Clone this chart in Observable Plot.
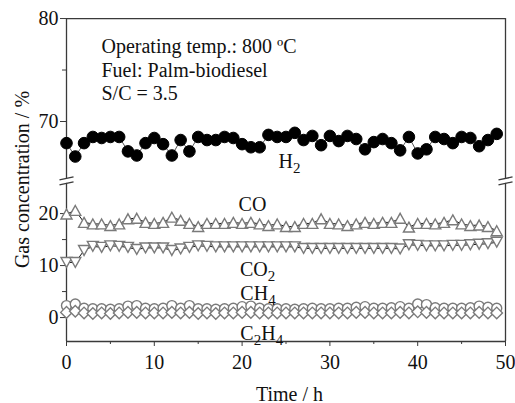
<!DOCTYPE html>
<html><head><meta charset="utf-8">
<script src="https://cdn.jsdelivr.net/npm/d3@7"></script>
<script src="https://cdn.jsdelivr.net/npm/@observablehq/plot@0.6"></script>
<style>
body{margin:0;background:#fff}
#chart svg{font-family:"Liberation Serif","Times New Roman",serif}
</style>
</head><body><div id="chart"></div>
<script>
// ---- data ----
const hours = [0,1,2,3,4,5,6,7,8,9,10,11,12,13,14,15,16,17,18,19,20,21,22,23,24,25,26,27,28,29,30,31,32,33,34,35,36,37,38,39,40,41,42,43,44,45,46,47,48,49];
const h2 = [67.9,66.6,67.9,68.5,68.4,68.5,68.5,67.1,66.7,67.9, 68.4,67.8,66.7,68.2,67.1,68.5,68.2,68.2,68.5,68.4, 67.8,67.5,67.5,68.7,68.5,68.5,68.9,68.2,68.6,67.7, 68.6,68.1,68.6,68.3,67.3,68.0,68.3,67.9,67.2,68.5, 66.9,67.3,68.5,68.3,67.9,68.5,68.4,67.6,68.2,68.8];
const co = [19.9,20.6,18.3,18.0,18.0,17.7,18.0,19.0,19.1,18.3, 18.1,18.3,19.3,18.7,18.1,17.5,18.1,18.1,18.1,18.3, 18.1,18.3,18.0,17.7,18.0,17.5,17.5,18.1,18.1,19.0, 18.1,18.0,17.7,18.0,18.3,18.1,18.3,18.3,19.1,17.4, 18.1,18.1,18.0,18.3,18.8,18.0,17.7,17.8,17.5,16.7];
const co2 = [10.6,10.6,12.9,13.7,13.5,13.8,13.7,13.5,13.1,13.4, 13.4,13.4,12.9,13.2,13.5,13.8,13.7,13.6,13.6,13.6, 13.6,13.6,13.6,13.6,13.6,13.6,13.6,13.3,13.3,13.3, 13.3,13.3,13.3,13.3,13.3,13.3,13.3,13.3,13.2,14.0, 13.9,13.8,13.8,13.8,13.9,13.9,14.0,14.1,14.2,14.5];
const ch4 = [2.3,2.6,1.8,1.7,1.7,1.6,1.7,2.2,2.3,1.8, 1.7,1.8,2.3,1.8,2.3,1.7,1.7,1.6,1.7,1.8, 2.1,2.2,1.8,1.7,1.7,1.7,1.6,1.7,1.8,1.7, 1.7,1.8,1.8,2.0,2.1,1.8,1.8,1.9,2.1,1.8, 2.6,2.5,1.9,1.8,1.8,1.8,1.9,2.2,2.0,1.8];
const c2h4 = [1.0,1.2,0.9,0.8,0.9,0.8,0.9,1.0,1.0,0.9, 0.9,0.9,1.0,0.9,1.0,0.8,0.9,0.8,0.9,0.9, 1.0,1.0,0.9,0.9,0.9,0.9,0.9,0.9,0.9,0.9, 0.9,0.9,0.9,1.0,1.0,0.9,0.9,0.9,1.0,0.9, 1.1,1.0,0.9,0.9,0.9,0.9,0.9,1.0,0.9,0.9];

const xTicks = [0,10,20,30,40,50];
const xMinorTicks = [5,15,25,35,45];
const yLowerTicks = [0,10,20];
const yLowerMinor = [5,15];
const yUpperTicks = [70,80];
const yUpperMinor = [75];
const lowerRange = [-4.6, 25.8];
const upperRange = [64.47, 80];

const seriesLabels = [
  {t: 24.15, v: 66.06, text: "H_2"},
  {t: 19.6, v: 21.8, text: "CO"},
  {t: 19.75, v: 9.3, text: "CO_2"},
  {t: 19.8, v: 4.7, text: "CH_4"},
  {t: 19.8, v: -3.0, text: "C_2H_4"}
];
const note = "Operating temp.: 800 ºC\nFuel: Palm-biodiesel\nS/C = 3.5";

// ---- broken-axis mapping (upper segment drawn at ~2x the lower scale) ----
const UPPER_BASE = 37.7, UPPER_K = 1.98;
const fy = v => v > 40 ? UPPER_BASE + (v - 70) * UPPER_K : v;
const inv = y => y > 26.3 ? 70 + (y - UPPER_BASE) / UPPER_K : y;

const rows = s => hours.map((t, i) => ({t, v: s[i]}));
const H2 = rows(h2), CO = rows(co), CO2 = rows(co2), CH4 = rows(ch4), C2H4 = rows(c2h4);

const triUp = {draw(ctx, size){ const r = Math.sqrt(size/Math.PI); const w = r, h = 0.9*r;
  ctx.moveTo(0,-h); ctx.lineTo(w,h); ctx.lineTo(-w,h); ctx.closePath(); }};
const triDown = {draw(ctx, size){ const r = Math.sqrt(size/Math.PI); const w = r, h = 0.9*r;
  ctx.moveTo(0,h); ctx.lineTo(w,-h); ctx.lineTo(-w,-h); ctx.closePath(); }};

const frameColor = "#3a3a3a";
const markGray = "#7a7a7a";
const yBot = lowerRange[0], yTop = fy(upperRange[1]);
const breaks = [];
for (const x of [0, 50]) {
  breaks.push({x, y: fy(upperRange[0])});
  breaks.push({x, y: lowerRange[1]});
}

const plot = Plot.plot({
  width: 515, height: 403,
  marginLeft: 66, marginRight: 10, marginTop: 17, marginBottom: 62,
  style: {fontFamily: "'Liberation Serif','Times New Roman',serif", fontSize: "20px", color: "#111", background: "#fff"},
  x: {domain: [0, 50]},
  y: {domain: [-4.6, 57.7]},
  marks: [
    // frame with axis breaks
    Plot.ruleX([0, 50], {y1: yBot, y2: lowerRange[1], stroke: frameColor, strokeWidth: 1.3}),
    Plot.ruleX([0, 50], {y1: fy(upperRange[0]), y2: yTop, stroke: frameColor, strokeWidth: 1.3}),
    Plot.ruleY([yBot, yTop], {x1: 0, x2: 50, stroke: frameColor, strokeWidth: 1.3}),
    Plot.link(breaks, {x1: d => d.x - 0.8, x2: d => d.x + 0.8, y1: d => d.y - 0.29, y2: d => d.y + 0.29, stroke: frameColor, strokeWidth: 1.3}),
    // axes
    Plot.axisX(xTicks, {tickSize: 5, tickPadding: 8, fontSize: 20, label: null, stroke: frameColor}),
    Plot.axisX(xMinorTicks, {tickSize: 3, tickFormat: () => "", label: null, stroke: frameColor}),
    Plot.axisY(yLowerTicks.concat(yUpperTicks).map(fy), {tickSize: 6, tickPadding: 2, fontSize: 20, label: null, stroke: frameColor, tickFormat: y => String(Math.round(inv(y)))}),
    Plot.axisY(yLowerMinor.concat(yUpperMinor).map(fy), {tickSize: 4, tickFormat: () => "", label: null, stroke: frameColor}),
    // series lines
    Plot.line(H2, {x: "t", y: d => fy(d.v), stroke: "#555", strokeWidth: 1}),
    Plot.line(CO, {x: "t", y: "v", stroke: "#111", strokeWidth: 1}),
    Plot.line(CO2, {x: "t", y: "v", stroke: "#111", strokeWidth: 1}),
    Plot.line(CH4, {x: "t", y: "v", stroke: markGray, strokeWidth: 1}),
    Plot.line(C2H4, {x: "t", y: "v", stroke: markGray, strokeWidth: 1}),
    // series markers
    Plot.dot(H2, {x: "t", y: d => fy(d.v), r: 5.8, fill: "#000", stroke: "#000", strokeWidth: 1}),
    Plot.dot(CO, {x: "t", y: "v", r: 5.5, symbol: triUp, fill: "#fff", stroke: markGray, strokeWidth: 1.4}),
    Plot.dot(CO2, {x: "t", y: "v", r: 5.5, symbol: triDown, fill: "#fff", stroke: markGray, strokeWidth: 1.4}),
    Plot.dot(CH4, {x: "t", y: "v", r: 5, fill: "#fff", stroke: markGray, strokeWidth: 1.4}),
    Plot.dot(C2H4, {x: "t", y: "v", r: 5.2, symbol: "diamond2", fill: "#fff", stroke: markGray, strokeWidth: 1.4}),
    // labels
    Plot.text(seriesLabels, {x: "t", y: d => fy(d.v), text: "text", textAnchor: "start", lineAnchor: "middle", fontSize: 20, fill: "#111"}),
    Plot.text([note], {frameAnchor: "top-left", dx: 35, dy: 19, lineAnchor: "top", textAnchor: "start", lineHeight: 1.175, fontSize: 20, fill: "#111"}),
    Plot.text(["Gas concentration / %"], {frameAnchor: "left", dx: -44, rotate: -90, textAnchor: "middle", lineAnchor: "middle", fontSize: 20, fill: "#111"}),
    Plot.text(["Time / h"], {frameAnchor: "bottom", dx: 3.5, dy: 52.6, lineAnchor: "middle", fontSize: 20, fill: "#111"})
  ]
});

// subscripts ("_2" -> lowered small digit)
const NS = "http://www.w3.org/2000/svg";
plot.querySelectorAll("text").forEach(t => {
  const s = t.textContent;
  if (!/_\d/.test(s) || t.children.length) return;
  t.textContent = "";
  let prevSub = false;
  s.split(/(_\d)/).forEach(p => {
    if (!p) return;
    const ts = document.createElementNS(NS, "tspan");
    if (p[0] === "_") {
      ts.textContent = p.slice(1);
      ts.setAttribute("font-size", "15");
      ts.setAttribute("dy", "5");
      prevSub = true;
    } else {
      ts.textContent = p;
      if (prevSub) ts.setAttribute("dy", "-5");
      prevSub = false;
    }
    t.appendChild(ts);
  });
});

document.getElementById("chart").appendChild(plot);
</script>
</body></html>
